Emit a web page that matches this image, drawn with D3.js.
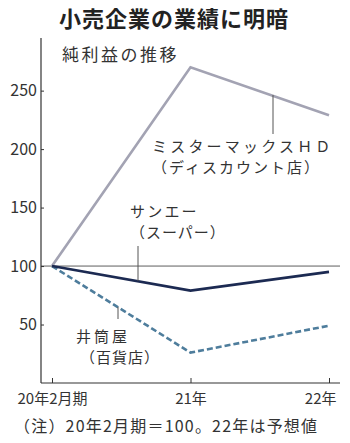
<!DOCTYPE html>
<html>
<head>
<meta charset="utf-8">
<script src="https://d3js.org/d3.v7.min.js"></script>
<style>
  body { margin: 0; background: #fff; }
  text { font-family: "Noto Sans CJK JP", "Noto Sans", sans-serif; }
</style>
</head>
<body>
<div id="chart"></div>
<script>
// periods on the x axis
var periods = ["20年2月期", "21年", "22年"];
// net profit index, 20年2月期 = 100
var mrMax = [100, 270, 229];
var sanei = [100, 79, 95];
var izutsuya = [100, 26, 49];
var yTicks = [50, 100, 150, 200, 250];

var W = 350, H = 443;
var svg = d3.select("#chart").append("svg")
    .attr("width", W).attr("height", H);

var x = d3.scalePoint().domain(periods).range([52, 329]);
var y = d3.scaleLinear().domain([0, 295]).range([383, 38]);

// title
svg.append("text")
    .attr("x", 174).attr("y", 27)
    .attr("text-anchor", "middle")
    .style("font-size", "22px").style("font-weight", "bold")
    .style("letter-spacing", "1px")
    .style("fill", "#222")
    .text("小売企業の業績に明暗");

svg.append("text")
    .attr("x", 62).attr("y", 61)
    .style("font-size", "17px").style("fill", "#333")
    .style("letter-spacing", "2.5px")
    .text("純利益の推移");

// y axis
var yAxis = d3.axisLeft(y).tickValues(yTicks).tickSize(-3).tickPadding(4);
var gy = svg.append("g").attr("transform", "translate(41,0)").call(yAxis);
gy.select(".domain").remove();
gy.selectAll("text").style("font-size", "16px").style("fill", "#333")
    .style("font-family", "'Liberation Sans Narrow', 'Noto Sans CJK JP', sans-serif");
gy.selectAll("line").attr("stroke", "#333");
svg.append("line")
    .attr("x1", 41).attr("x2", 41).attr("y1", 38).attr("y2", 383)
    .attr("stroke", "#333").attr("stroke-width", 1.2);

// x axis
var xAxis = d3.axisBottom(x).tickSize(-5).tickPadding(10);
var gx = svg.append("g").attr("transform", "translate(0,383)").call(xAxis);
gx.select(".domain").remove();
gx.selectAll("line").attr("stroke", "#333");
gx.selectAll("text").style("font-size", "15px").style("fill", "#333");
gx.selectAll("text").filter(function (d) { return d === "22年"; })
    .attr("text-anchor", "end").attr("dx", 7);
svg.append("line")
    .attr("x1", 41).attr("x2", 340).attr("y1", 383).attr("y2", 383)
    .attr("stroke", "#333").attr("stroke-width", 1.2);

// 100 reference line
svg.append("line")
    .attr("x1", 41).attr("x2", 340).attr("y1", y(100)).attr("y2", y(100))
    .attr("stroke", "#333").attr("stroke-width", 0.8);

var line = d3.line()
    .x(function (d, i) { return x(periods[i]); })
    .y(function (d) { return y(d); });

svg.append("path").datum(izutsuya).attr("d", line)
    .attr("fill", "none").attr("stroke", "#4e7d9c")
    .attr("stroke-width", 2.6).attr("stroke-dasharray", "6,3");
svg.append("path").datum(mrMax).attr("d", line)
    .attr("fill", "none").attr("stroke", "#a3a3b3").attr("stroke-width", 2.6);
svg.append("path").datum(sanei).attr("d", line)
    .attr("fill", "none").attr("stroke", "#1c2a52").attr("stroke-width", 2.6);

// leader lines
function leader(x0, y0, y1) {
  svg.append("line").attr("x1", x0).attr("x2", x0).attr("y1", y0).attr("y2", y1)
      .attr("stroke", "#555").attr("stroke-width", 1);
}
leader(273, 95, 134);
leader(138, 246, 281);
leader(118, 307, 319);

function label(x0, y0, t, sp) {
  svg.append("text").attr("x", x0).attr("y", y0)
      .style("font-size", "15px").style("fill", "#333")
      .style("letter-spacing", sp + "px").text(t);
}
label(152, 151.5, "ミスターマックスＨＤ", 3.2);
label(152, 172.5, "（ディスカウント店）", 2);
label(130, 216.5, "サンエー", 2.2);
label(130, 237.5, "（スーパー）", 1);
label(76, 341.5, "井筒屋", 3);
label(80, 362.5, "（百貨店）", 1);

// note
svg.append("text")
    .attr("x", 14).attr("y", 432)
    .style("font-size", "16px").style("fill", "#333")
    .style("letter-spacing", "1.2px")
    .text("（注）20年2月期＝100。22年は予想値");
</script>
</body>
</html>
